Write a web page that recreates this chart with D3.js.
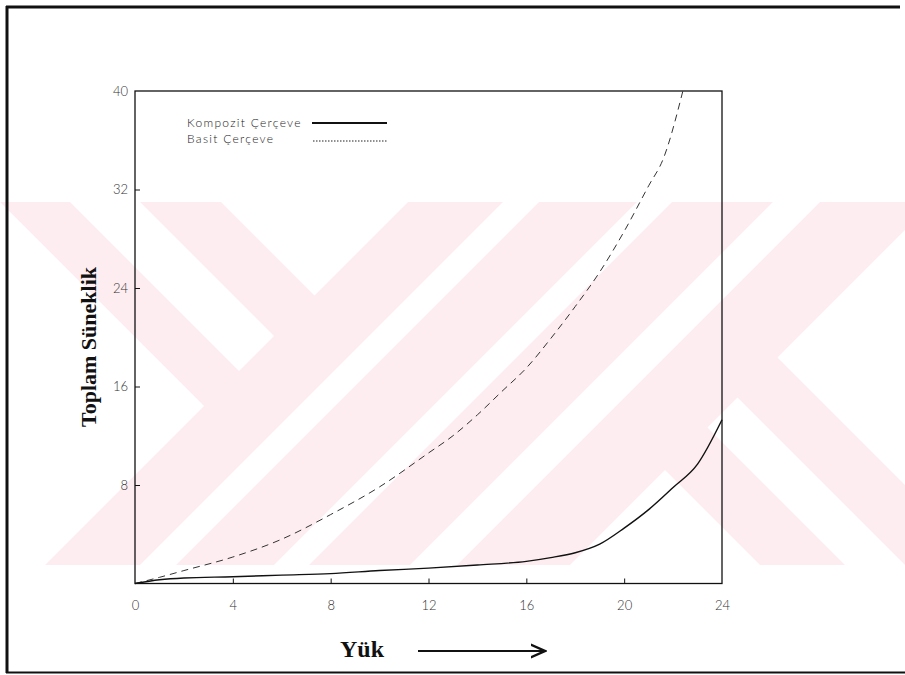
<!DOCTYPE html>
<html><head><meta charset="utf-8">
<script src="https://cdn.jsdelivr.net/npm/d3@7"></script>
<style>body{margin:0;background:#fff} svg{display:block}</style>
</head><body><svg id="c" width="905" height="675"></svg>
<script>
// ---- data ----
const seriesNames = ["Kompozit Çerçeve", "Basit Çerçeve"];
const basitLoad = [0, 1, 2, 4, 6, 8, 10, 12, 13, 14, 15, 16, 17, 18, 19, 20, 21, 21.6, 22.4];
const basitDuct = [0, 0.5, 1.05, 2.15, 3.6, 5.6, 7.85, 10.6, 12.0, 13.7, 15.6, 17.5, 19.9, 22.5, 25.3, 28.6, 32.3, 34.5, 40];
const kompLoad = [0, 1, 2, 4, 6, 8, 10, 12, 14, 16, 17, 18, 19, 20, 21, 22, 23, 24];
const kompDuct = [0, 0.3, 0.45, 0.55, 0.68, 0.8, 1.05, 1.25, 1.5, 1.8, 2.1, 2.5, 3.2, 4.5, 6.0, 7.8, 9.7, 13.3];
const xTickValues = [0, 4, 8, 12, 16, 20, 24];
const yTickValues = [8, 16, 24, 32, 40];
const xTitle = "Yük";
const yTitle = "Toplam Süneklik";

const svg = d3.select("#c");
const W = 905, H = 675;

// ---- background watermark (decoration) ----
const wmTop = 202, wmBottom = 565;
const pink = "#fdedf0";
svg.append("defs").append("clipPath").attr("id", "wm")
  .append("rect").attr("x", 0).attr("y", wmTop).attr("width", W).attr("height", wmBottom - wmTop);
const wm = svg.append("g").attr("clip-path", "url(#wm)");
wm.append("rect").attr("x", 0).attr("y", wmTop).attr("width", W).attr("height", wmBottom - wmTop).attr("fill", pink);
// regions in rotated coordinates c = x + y, d = x - y
const BIG = 5000;
const whiteRegions = [
  [705, 741, -BIG, BIG], [839, 874, -BIG, BIG], [975, 1022, -BIG, BIG],
  [-BIG, 610, -BIG, -202], [-BIG, 610, -132, -62], [-BIG, 610, 19, BIG],
  [1135, BIG, -BIG, 195], [1135, BIG, 280, 340], [1135, BIG, 420, BIG]
];
function diamond(r) {
  const [c1, c2, d1, d2] = r;
  return [[c1, d1], [c1, d2], [c2, d2], [c2, d1]].map(([c, d]) => [(c + d) / 2, (c - d) / 2]);
}
wm.selectAll("polygon").data(whiteRegions).join("polygon")
  .attr("points", d => diamond(d).join(" ")).attr("fill", "#fff");

// ---- page frame ----
const frame = svg.append("g").attr("stroke", "#111").attr("fill", "none");
frame.append("line").attr("x1", 6).attr("x2", 900).attr("y1", 7).attr("y2", 7).attr("stroke-width", 3);
frame.append("line").attr("x1", 7).attr("x2", 7).attr("y1", 6).attr("y2", 673).attr("stroke-width", 3);
frame.append("line").attr("x1", 6).attr("x2", 905).attr("y1", 672.5).attr("y2", 672.5).attr("stroke-width", 2);

// ---- scales ----
const x = d3.scaleLinear().domain([0, 24]).range([135, 722]);
const y = d3.scaleLinear().domain([0, 40]).range([583.5, 91]);

// plot frame
svg.append("rect").attr("x", x(0)).attr("y", y(40)).attr("width", x(24) - x(0)).attr("height", y(0) - y(40))
  .attr("fill", "none").attr("stroke", "#111").attr("stroke-width", 1.3);

const tickFont = "Lato, 'Open Sans', sans-serif";
const gx = svg.append("g").attr("transform", `translate(0,${y(0)})`)
  .call(d3.axisBottom(x).tickValues(xTickValues).tickSize(-5).tickPadding(17).tickFormat(d3.format("d")));
gx.select(".domain").remove();
gx.selectAll(".tick line").attr("stroke", "#111").filter(d => d === 0 || d === 24).remove();
gx.selectAll("text").attr("font-family", tickFont).attr("font-weight", 300).attr("font-size", 13).attr("fill", "#333");

const gy = svg.append("g").attr("transform", `translate(${x(0)},0)`)
  .call(d3.axisLeft(y).tickValues(yTickValues).tickSize(-5).tickPadding(7).tickFormat(d3.format("d")));
gy.select(".domain").remove();
gy.selectAll(".tick line").attr("stroke", "#111").filter(d => d === 40).remove();
gy.selectAll("text").attr("font-family", tickFont).attr("font-weight", 300).attr("font-size", 13).attr("fill", "#333");

// ---- series ----
const line = d3.line().x(d => x(d[0])).y(d => y(d[1])).curve(d3.curveMonotoneX);
svg.append("path").datum(basitLoad.map((v, i) => [v, basitDuct[i]]))
  .attr("d", line).attr("fill", "none").attr("stroke", "#333").attr("stroke-width", 1)
  .attr("stroke-dasharray", "7,5");
svg.append("path").datum(kompLoad.map((v, i) => [v, kompDuct[i]]))
  .attr("d", line).attr("fill", "none").attr("stroke", "#111").attr("stroke-width", 1.4);

// ---- legend ----
const lg = svg.append("g").attr("font-family", tickFont).attr("font-weight", 300).attr("font-size", 12).attr("fill", "#222");
lg.append("text").attr("x", 187).attr("y", 127).attr("letter-spacing", 1.3).text(seriesNames[0]);
lg.append("text").attr("x", 187).attr("y", 143).attr("letter-spacing", 1.3).text(seriesNames[1]);
lg.append("line").attr("x1", 312).attr("x2", 387).attr("y1", 123).attr("y2", 123).attr("stroke", "#111").attr("stroke-width", 2);
lg.append("line").attr("x1", 313).attr("x2", 387).attr("y1", 141).attr("y2", 141).attr("stroke", "#222")
  .attr("stroke-width", 1.2).attr("stroke-dasharray", "1.5,1.5");

// ---- axis titles ----
svg.append("text").attr("transform", "translate(96,347) rotate(-90)").attr("text-anchor", "middle")
  .attr("font-family", "'Liberation Serif', 'Times New Roman', serif").attr("font-weight", "bold")
  .attr("font-size", 22).attr("fill", "#111").text(yTitle);
svg.append("text").attr("x", 340).attr("y", 657)
  .attr("font-family", "'Liberation Serif', 'Times New Roman', serif").attr("font-weight", "bold")
  .attr("font-size", 24).attr("fill", "#111").text(xTitle);
svg.select("defs").append("marker").attr("id", "arr").attr("viewBox", "0 0 10 10").attr("refX", 9).attr("refY", 5)
  .attr("markerWidth", 8).attr("markerHeight", 8).attr("orient", "auto")
  .append("path").attr("d", "M0,1 L9,5 L0,9").attr("fill", "none").attr("stroke", "#111").attr("stroke-width", 1.5);
svg.append("line").attr("x1", 418).attr("x2", 545).attr("y1", 651).attr("y2", 651)
  .attr("stroke", "#111").attr("stroke-width", 2).attr("marker-end", "url(#arr)");
</script></body></html>
